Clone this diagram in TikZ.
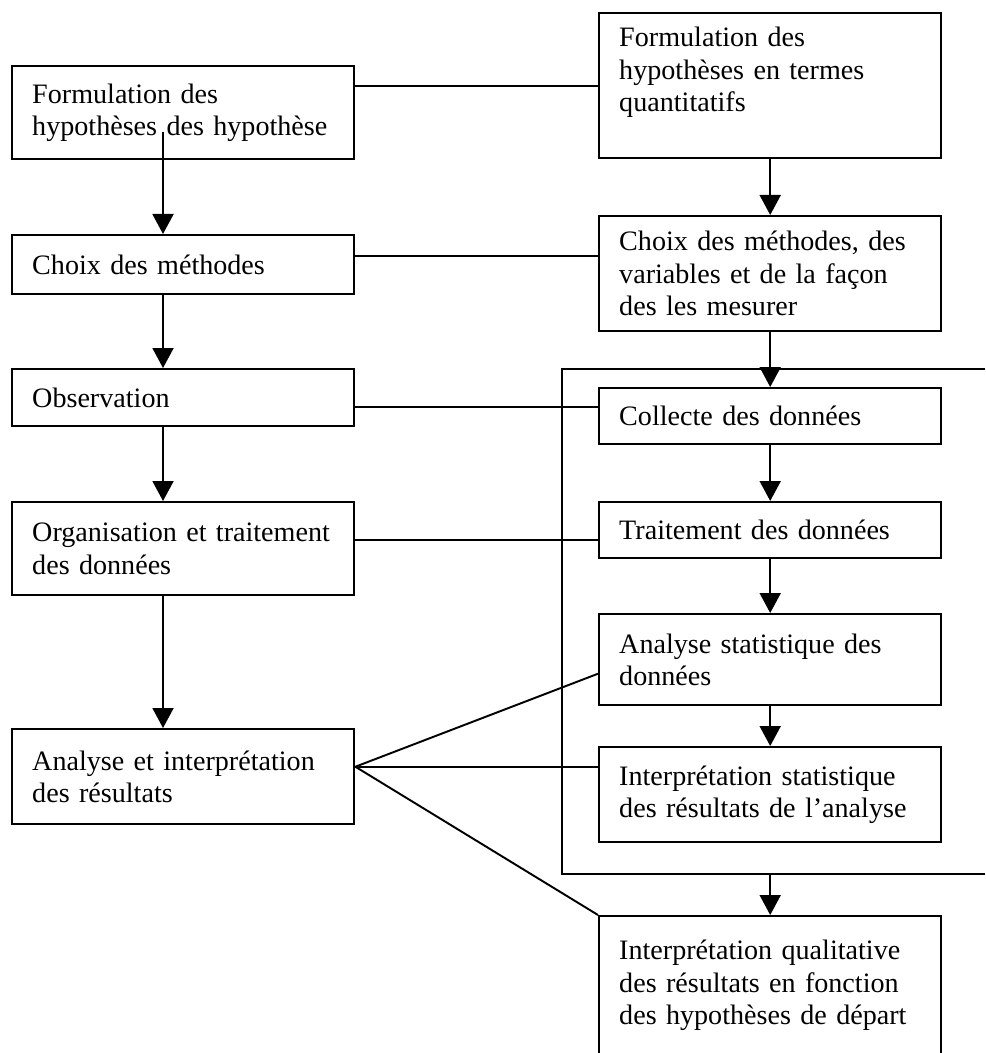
\documentclass[tikz,border=0pt]{standalone}
\usepackage{fontspec}
\setmainfont{Liberation Serif}
\usepackage{tikz}
\usetikzlibrary{arrows.meta}

\begin{document}
\begin{tikzpicture}[
    x=0.02cm,
    y=-0.02cm,
    font=\fontsize{16}{18.5}\selectfont,
    etapebox/.style={
        draw=black,
        line width=1.4pt,
        anchor=north west,
        text width=6.04cm,
        inner xsep=0.4cm,
        inner ysep=4pt,
        align=left
    },
    arr/.style={
        -{Triangle[length=0.4cm,width=0.42cm]},
        draw=black,
        line width=1.1pt
    },
    lien/.style={
        draw=black,
        line width=1.1pt
    }
]

\useasboundingbox (0,0) rectangle (985,1053);

% -----------------------------------------------------
% Colonne de gauche
% -----------------------------------------------------

\node[etapebox, minimum height=1.86cm] (hypo) at (11,65)
{
    Formulation des\\
    hypothèses des hypothèse
};

\node[etapebox, minimum height=1.18cm] (choix) at (11,234)
{
    Choix des méthodes
};

\node[etapebox, minimum height=1.14cm] (obs) at (11,368)
{
    Observation
};

\node[etapebox, minimum height=1.86cm] (orga) at (11,501)
{
    Organisation et traitement\\
    des données
};

\node[etapebox, minimum height=1.9cm] (analyse) at (11,728)
{
    Analyse et interprétation\\
    des résultats
};

% -----------------------------------------------------
% Colonne de droite
% -----------------------------------------------------

\node[etapebox, minimum height=2.9cm] (hypoquant) at (598,12)
{
    Formulation des\\
    hypothèses en termes\\
    quantitatifs\\
    ~
};

\node[etapebox, minimum height=2.3cm] (choixvar) at (598,215)
{
    Choix des méthodes, des\\
    variables et de la façon\\
    des les mesurer
};

\node[etapebox, minimum height=1.12cm] (collecte) at (598,387)
{
    Collecte des données
};

\node[etapebox, minimum height=1.12cm] (traitement) at (598,501)
{
    Traitement des données
};

\node[etapebox, minimum height=1.82cm] (stat) at (598,613)
{
    Analyse statistique des\\
    données
};

\node[etapebox, minimum height=1.9cm] (interstat) at (598,746)
{
    Interprétation statistique\\
    des résultats de l’analyse
};

\node[etapebox, minimum height=3.3cm] (interqual) at (598,915)
{
    Interprétation qualitative\\
    des résultats en fonction\\
    des hypothèses de départ\\
    ~
};

% -----------------------------------------------------
% Cadre ouvert autour du traitement statistique
% -----------------------------------------------------

\coordinate (cadrehaut) at (985,369);
\coordinate (cadrebas) at (985,874);
\coordinate (cadreg) at (562,0);

\draw[lien, line width=1.4pt]
    (cadrehaut) -- (cadreg |- cadrehaut)
    -- (cadreg |- cadrebas) -- (cadrebas);

% -----------------------------------------------------
% Fleches
% -----------------------------------------------------

\coordinate (colg) at (163,0);
\coordinate (depart) at (163,132);

\draw[arr] (depart) -- (colg |- choix.north);
\draw[arr] (colg |- choix.south) -- (colg |- obs.north);
\draw[arr] (colg |- obs.south) -- (colg |- orga.north);
\draw[arr] (colg |- orga.south) -- (colg |- analyse.north);

\draw[arr] (hypoquant.south) -- (choixvar.north);
\draw[arr] (choixvar.south) -- (collecte.north);
\draw[arr] (collecte.south) -- (traitement.north);
\draw[arr] (traitement.south) -- (stat.north);
\draw[arr] (stat.south) -- (interstat.north);
\draw[arr] (interqual.north |- cadrebas) -- (interqual.north);

% -----------------------------------------------------
% Liens entre les deux colonnes
% -----------------------------------------------------

\draw[lien] (hypo.east |- hypoquant.west) -- (hypoquant.west);
\draw[lien] ([yshift=0.17cm]choix.east) -- ([yshift=0.17cm]choix.east -| choixvar.west);
\draw[lien] ([yshift=-0.19cm]obs.east) -- ([yshift=-0.19cm]obs.east -| collecte.west);
\draw[lien] ([yshift=0.18cm]orga.east) -- ([yshift=0.18cm]orga.east -| traitement.west);

% Eventail depuis l'analyse
\coordinate (eventail) at ([yshift=0.2cm]analyse.east);

\draw[lien] (eventail) -- ([yshift=-0.28cm]stat.west);
\draw[lien] (eventail) -- (eventail -| interstat.west);
\draw[lien] (eventail) -- (interqual.north west);

\end{tikzpicture}
\end{document}
